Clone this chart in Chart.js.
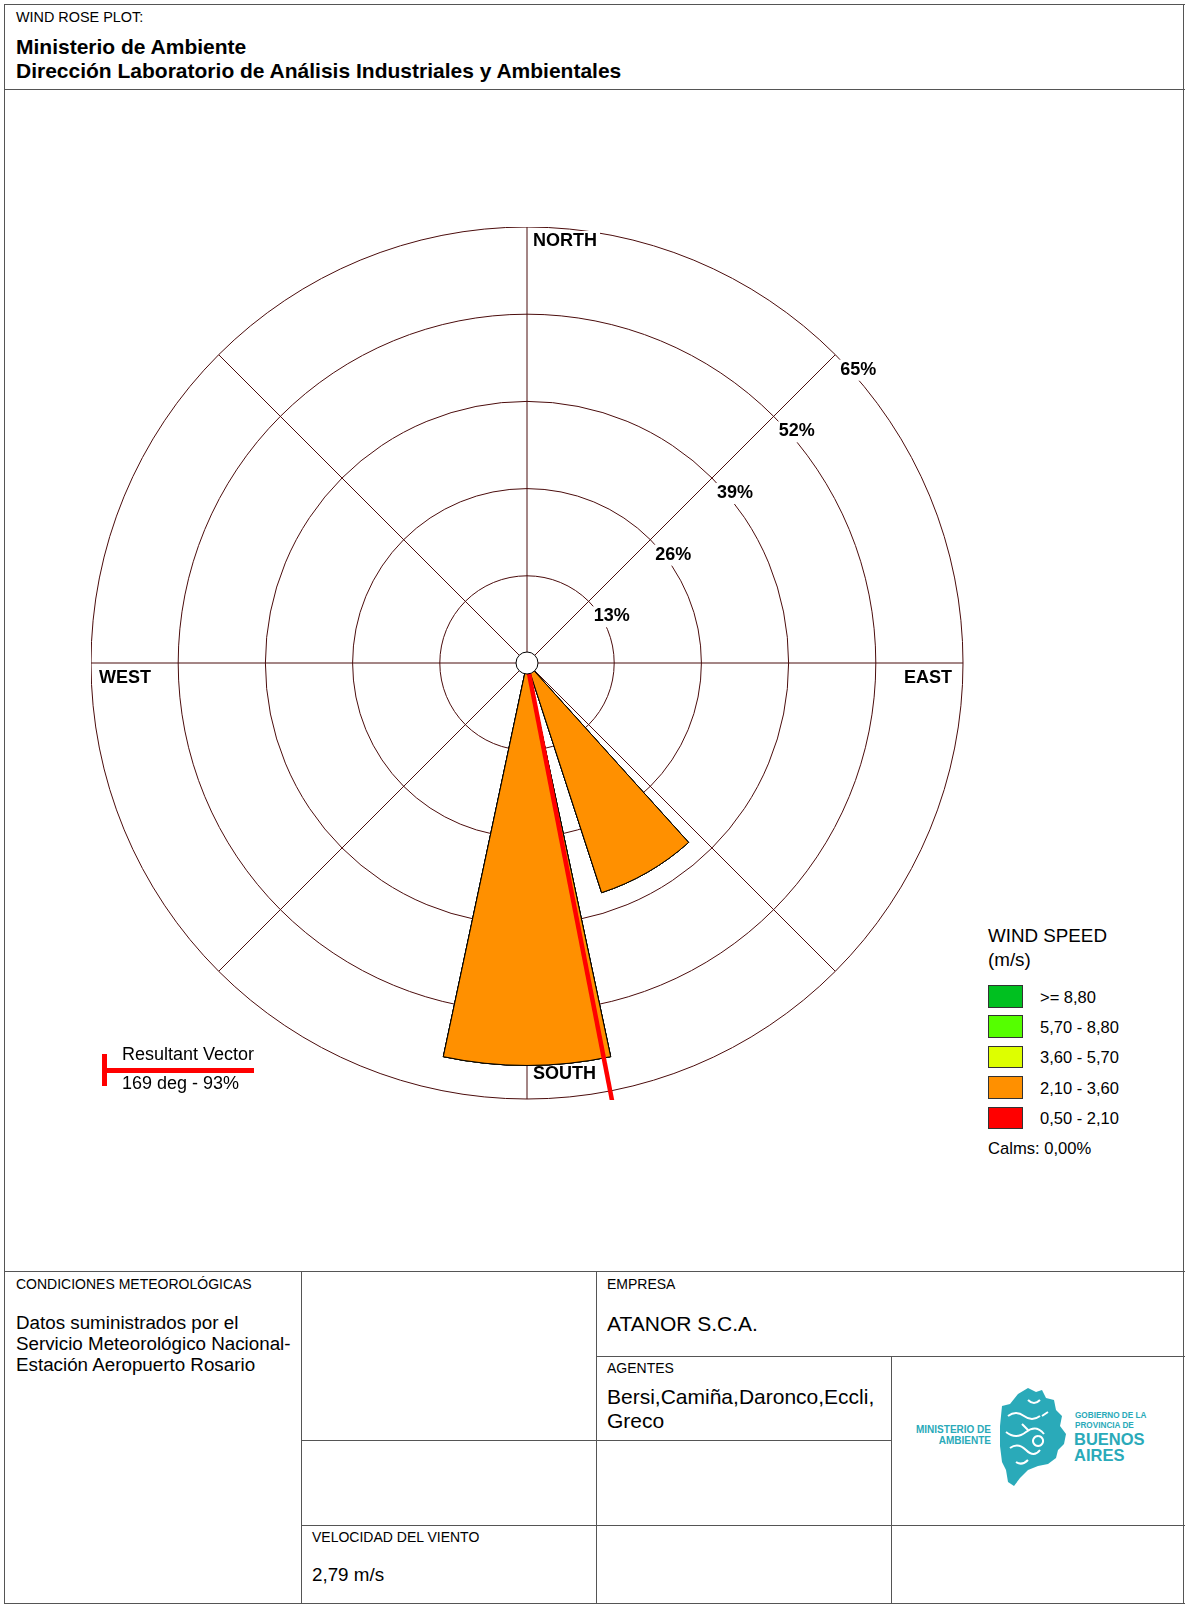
<!DOCTYPE html>
<html><head><meta charset="utf-8">
<script src="https://cdn.jsdelivr.net/npm/chart.js@4.4.1/dist/chart.umd.min.js"></script>
<style>
html,body{margin:0;padding:0;background:#fff;}
body{width:1185px;height:1604px;position:relative;overflow:hidden;font-family:"Liberation Sans",Arial,sans-serif;color:#000;}
.t{position:absolute;white-space:nowrap;line-height:20px;}
.hl{position:absolute;height:0;border-top:1px solid #555;}
.vl{position:absolute;width:0;border-left:1px solid #555;}
.small{font-size:14px;}
.mid{font-size:18.8px;}
.big{font-size:21px;}
.box{position:absolute;width:35px;height:22.5px;border:1px solid #333;box-sizing:border-box;}
#chartWrap{position:absolute;left:91px;top:227px;width:873px;height:873px;}
</style>
</head><body>

<!-- frame -->
<div class="vl" style="left:4px;top:4px;height:1600px;"></div>
<div class="hl" style="left:4px;top:4px;width:1181px;"></div>
<div class="vl" style="left:1183px;top:4px;height:1600px;"></div>
<div class="hl" style="left:4px;top:89px;width:1181px;"></div>
<div class="hl" style="left:4px;top:1271px;width:1181px;"></div>
<div class="hl" style="left:4px;top:1603px;width:1181px;"></div>

<div class="t" style="left:16px;top:7px;font-size:14.4px;">WIND ROSE PLOT:</div>
<div class="t" style="left:16px;top:35px;font-size:21px;font-weight:bold;line-height:23.5px;">Ministerio de Ambiente<br>Dirección Laboratorio de Análisis Industriales y Ambientales</div>

<div id="chartWrap"><canvas id="c"></canvas></div>

<!-- legend -->
<div class="t mid" style="left:988px;top:924px;line-height:23.5px;">WIND SPEED<br>(m/s)</div>
<div id="legendBoxes"></div>
<div class="t" style="left:988px;top:1139px;font-size:16.6px;" id="calms"></div>

<!-- resultant vector legend -->
<div style="position:absolute;left:102px;top:1054px;width:4.5px;height:32px;background:#ff0000;"></div>
<div style="position:absolute;left:102px;top:1068px;width:152px;height:4.5px;background:#ff0000;"></div>
<div class="t" style="left:122px;top:1044px;font-size:18px;">Resultant Vector</div>
<div class="t" style="left:122px;top:1073px;font-size:18px;" id="resTxt"></div>

<!-- table -->
<div class="vl" style="left:301px;top:1271px;height:333px;"></div>
<div class="vl" style="left:596px;top:1271px;height:333px;"></div>
<div class="vl" style="left:891px;top:1356px;height:248px;"></div>
<div class="hl" style="left:596px;top:1356px;width:589px;"></div>
<div class="hl" style="left:301px;top:1440px;width:590px;"></div>
<div class="hl" style="left:301px;top:1525px;width:884px;"></div>

<div class="t small" style="left:16px;top:1274px;">CONDICIONES METEOROLÓGICAS</div>
<div class="t mid" style="left:16px;top:1312px;line-height:21px;">Datos suministrados por el<br>Servicio Meteorológico Nacional-<br>Estación Aeropuerto Rosario</div>
<div class="t small" style="left:607px;top:1274px;">EMPRESA</div>
<div class="t big" style="left:607px;top:1312px;line-height:23px;">ATANOR S.C.A.</div>
<div class="t small" style="left:607px;top:1358px;">AGENTES</div>
<div class="t big" style="left:607px;top:1385px;line-height:23.5px;">Bersi,Camiña,Daronco,Eccli,<br>Greco</div>
<div class="t small" style="left:312px;top:1527px;">VELOCIDAD DEL VIENTO</div>
<div class="t mid" style="left:312px;top:1565px;">2,79 m/s</div>

<!-- logo -->
<div class="t" style="left:916px;top:1424px;font-size:10px;font-weight:bold;color:#2aaab9;line-height:11px;text-align:right;width:75px;">MINISTERIO DE<br>AMBIENTE</div>
<svg style="position:absolute;left:998px;top:1386px;" width="70" height="104" viewBox="0 0 70 104">
  <path d="M20 8 L30 2 L38 6 L44 4 L48 12 L56 14 L58 24 L64 30 L62 40 L68 48 L66 58 L60 64 L58 72 L50 78 L40 80 L30 84 L22 92 L16 100 L10 96 L8 84 L4 76 L2 60 L2 40 L4 20 L12 18 Z" fill="#2aaab9"/>
  <path d="M10 30 q8 -6 16 0 t16 0 M8 46 q10 8 20 0 t18 2 M12 62 q8 -6 16 2 t14 0 M18 76 q6 4 12 -2 M30 14 q6 6 12 0 M40 50 a5 5 0 1 0 0.1 0 M24 38 l6 6 M44 30 l6 -4" stroke="#fff" stroke-width="2" fill="none"/>
</svg>
<div class="t" style="left:1075px;top:1411px;font-size:8.2px;font-weight:bold;color:#2aaab9;line-height:10px;">GOBIERNO DE LA<br>PROVINCIA DE</div>
<div class="t" style="left:1074px;top:1431px;font-size:16.5px;font-weight:bold;color:#2aaab9;line-height:16px;">BUENOS<br>AIRES</div>

<script>
// ---------- data ----------
const directionDeg = [0, 30, 60, 90, 120, 150, 180, 210, 240, 270, 300, 330];
const speedClassLabels = ['0,50 - 2,10', '2,10 - 3,60', '3,60 - 5,70', '5,70 - 8,80', '>= 8,80'];
const speedClassColors = ['#ff0000', '#ff9000', '#ddff00', '#55ff00', '#00c020'];
const freq_050_210 = [0, 0, 0, 0, 0, 0, 0, 0, 0, 0, 0, 0];
const freq_210_360 = [0, 0, 0, 0, 0, 36, 60, 0, 0, 0, 0, 0];
const freq_360_570 = [0, 0, 0, 0, 0, 0, 0, 0, 0, 0, 0, 0];
const freq_570_880 = [0, 0, 0, 0, 0, 0, 0, 0, 0, 0, 0, 0];
const freq_880_up  = [0, 0, 0, 0, 0, 0, 0, 0, 0, 0, 0, 0];
const ringTicks = [13, 26, 39, 52, 65];
const compassLabels = ['NORTH', 'EAST', 'SOUTH', 'WEST'];
const angleLineDeg = [0, 45, 90, 135, 180, 225, 270, 315];
const resultantDeg = 169;
const resultantPct = 93;
const calmsPct = '0,00';
const sectorDeg = 30;
const wedgeDeg = 24;

// ---------- build ----------
const classFreqs = [freq_050_210, freq_210_360, freq_360_570, freq_570_880, freq_880_up];
const labels = [];
directionDeg.forEach(d => { labels.push(d + '°'); labels.push(''); });
const datasets = classFreqs.map((f, k) => {
  const cum = directionDeg.map((d, i) => classFreqs.slice(0, k + 1).reduce((s, arr) => s + arr[i], 0));
  const data = [];
  cum.forEach(v => { data.push(v); data.push(0); });
  return {
    label: speedClassLabels[k],
    data,
    backgroundColor: speedClassColors[k],
    borderColor: '#000',
    borderWidth: 1,
    angle: ctx => (ctx.dataIndex % 2 === 0 ? wedgeDeg : sectorDeg - wedgeDeg)
  };
});

// legend (html)
const lb = document.getElementById('legendBoxes');
for (let k = speedClassLabels.length - 1, row = 0; k >= 0; k--, row++) {
  const y = 985 + row * 30.4;
  const b = document.createElement('div');
  b.className = 'box'; b.style.left = '988px'; b.style.top = y + 'px'; b.style.background = speedClassColors[k];
  lb.appendChild(b);
  const t = document.createElement('div');
  t.className = 't'; t.style.left = '1040px'; t.style.top = (y + 1.5) + 'px'; t.style.fontSize = '16.5px';
  t.textContent = speedClassLabels[k];
  lb.appendChild(t);
}
document.getElementById('calms').textContent = 'Calms: ' + calmsPct + '%';
document.getElementById('resTxt').textContent = resultantDeg + ' deg - ' + resultantPct + '%';

const gridColor = '#4b0c0c';
const FONT = '"Liberation Sans", Arial, sans-serif';

const roseDecor = {
  id: 'roseDecor',
  beforeDatasetsDraw(chart) {
    const s = chart.scales.r, ctx = chart.ctx;
    const xc = s.xCenter, yc = s.yCenter, R = s.drawingArea;
    ctx.save();
    ctx.strokeStyle = gridColor; ctx.lineWidth = 1;
    angleLineDeg.forEach(b => {
      const a = b * Math.PI / 180;
      ctx.beginPath(); ctx.moveTo(xc, yc);
      ctx.lineTo(xc + R * Math.sin(a), yc - R * Math.cos(a)); ctx.stroke();
    });
    ctx.font = 'bold 18px ' + FONT;
    ctx.textBaseline = 'middle'; ctx.textAlign = 'left';
    ringTicks.forEach(v => {
      const r = s.getDistanceFromCenterForValue(v);
      const ix = xc + r * Math.SQRT1_2, iy = yc - r * Math.SQRT1_2;
      const txt = v + '%', w = ctx.measureText(txt).width;
      const x = ix + 5, y = iy + 15;
      ctx.fillStyle = '#fff'; ctx.fillRect(x - 3, y - 10, w + 6, 21);
      ctx.fillStyle = '#000'; ctx.fillText(txt, x, y);
    });
    // compass labels
    const pos = {
      NORTH: [xc + 6, yc - R + 14, 'left'],
      EAST: [xc + R - 11, yc + 15, 'right'],
      SOUTH: [xc + 6, yc + R - 25, 'left'],
      WEST: [xc - R + 8, yc + 15, 'left']
    };
    compassLabels.forEach(name => {
      const [x, y, al] = pos[name];
      ctx.textAlign = al;
      const w = ctx.measureText(name).width;
      const x0 = al === 'left' ? x : x - w;
      ctx.fillStyle = '#fff'; ctx.fillRect(x0 - 3, y - 10, w + 6, 21);
      ctx.fillStyle = '#000'; ctx.fillText(name, x, y);
    });
    ctx.restore();
  },
  afterDatasetsDraw(chart) {
    const s = chart.scales.r, ctx = chart.ctx, ca = chart.chartArea;
    const xc = s.xCenter, yc = s.yCenter;
    ctx.save();
    ctx.beginPath(); ctx.rect(ca.left, ca.top, ca.right - ca.left, ca.bottom - ca.top); ctx.clip();
    const r = s.getDistanceFromCenterForValue(resultantPct);
    const a = resultantDeg * Math.PI / 180;
    ctx.strokeStyle = '#ff0000'; ctx.lineWidth = 4.5; ctx.lineCap = 'butt';
    ctx.beginPath(); ctx.moveTo(xc, yc); ctx.lineTo(xc + r * Math.sin(a), yc - r * Math.cos(a)); ctx.stroke();
    ctx.beginPath(); ctx.arc(xc, yc, 11, 0, Math.PI * 2);
    ctx.fillStyle = '#fff'; ctx.fill();
    ctx.strokeStyle = '#000'; ctx.lineWidth = 1; ctx.stroke();
    ctx.restore();
  }
};

new Chart(document.getElementById('c'), {
  type: 'polarArea',
  data: { labels, datasets },
  options: {
    responsive: true,
    maintainAspectRatio: false,
    animation: false,
    events: [],
    layout: { padding: 0 },
    plugins: { legend: { display: false }, tooltip: { enabled: false } },
    scales: {
      r: {
        min: 0, max: 65,
        startAngle: -wedgeDeg / 2,
        ticks: { display: false, stepSize: 13 },
        grid: { circular: true, color: gridColor, lineWidth: 1 },
        angleLines: { display: false },
        pointLabels: { display: false }
      }
    }
  },
  plugins: [roseDecor]
});
</script>
</body></html>
